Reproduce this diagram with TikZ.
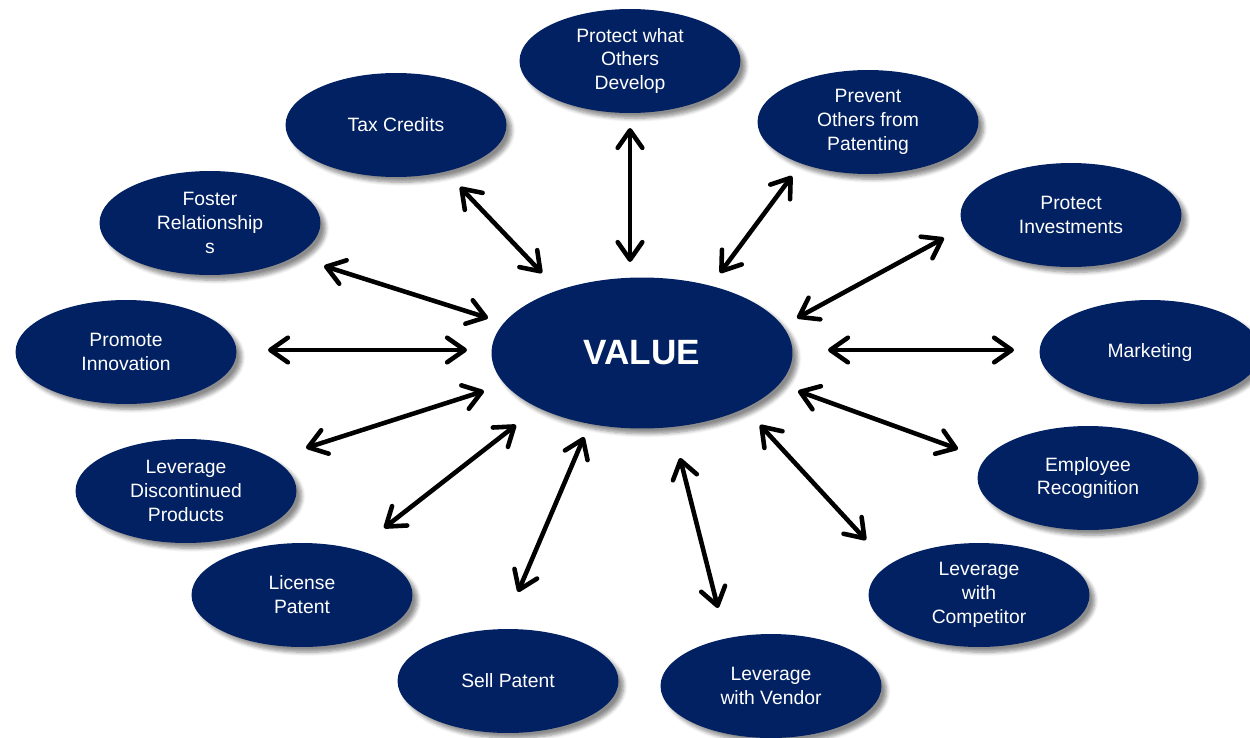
\documentclass[tikz,border=0pt]{standalone}
\usepackage{fontspec}
\setmainfont{Liberation Sans}
\usetikzlibrary{shapes.geometric,arrows.meta,shadows.blur}
\definecolor{navy}{HTML}{022162}
\tikzset{
  oval/.style={ellipse, fill=navy, draw=none, minimum width=4.42cm, minimum height=2.08cm,
    inner sep=0pt, text=white, align=center, font=\fontsize{11pt}{13.6pt}\selectfont,
    blur shadow={shadow xshift=3pt, shadow yshift=-3pt, shadow blur steps=6, shadow opacity=45}},
  dbl/.style={line width=2.6pt, line cap=round,
    {Straight Barb[length=10pt,width=14pt,line cap=round,line join=round]}-{Straight Barb[length=10pt,width=14pt,line cap=round,line join=round]}}
}
\begin{document}
\begin{tikzpicture}[x=0.02cm,y=-0.02cm]
\useasboundingbox (0,0) rectangle (1250,737);
\node[oval, minimum width=6.02cm, minimum height=3.02cm, font=\fontsize{20pt}{22pt}\selectfont\bfseries] (value) at (642,353) {VALUE};
\node[oval] (pw) at (630,61) {Protect what\\Others\\Develop};
\node[oval] (tax) at (396,125) {Tax Credits};
\node[oval] (prev) at (868,122) {Prevent\\Others from\\Patenting};
\node[oval] (foster) at (210,223) {Foster\\Relationship\\s};
\node[oval] (pinv) at (1071,215) {Protect\\Investments};
\node[oval] (prom) at (126,352) {Promote\\Innovation};
\node[oval] (mkt) at (1150,352) {Marketing};
\node[oval] (ldisc) at (186,491) {Leverage\\Discontinued\\Products};
\node[oval] (emp) at (1088,478) {Employee\\Recognition};
\node[oval] (lic) at (302,595) {License\\Patent};
\node[oval] (comp) at (979,595) {Leverage\\with\\Competitor};
\node[oval] (sell) at (508,681) {Sell Patent};
\node[oval] (vend) at (771,686) {Leverage\\with Vendor};

\draw[dbl] ([shift={(-12,-91)}]value.center) -- ([shift={(0,67)}]pw.center);
\draw[dbl] ([shift={(-100,-80)}]value.center) -- ([shift={(64,62)}]tax.center);
\draw[dbl] ([shift={(78,-80)}]value.center) -- ([shift={(-76,54)}]prev.center);
\draw[dbl] ([shift={(-154,-35)}]value.center) -- ([shift={(114,43)}]foster.center);
\draw[dbl] ([shift={(155,-35)}]value.center) -- ([shift={(-127,23)}]pinv.center);
\draw[dbl] ([shift={(-175,-3)}]value.center) -- ([shift={(142,-2)}]prom.center);
\draw[dbl] ([shift={(186,-3)}]value.center) -- ([shift={(-136,-2)}]mkt.center);
\draw[dbl] ([shift={(-158,38)}]value.center) -- ([shift={(120,-43)}]ldisc.center);
\draw[dbl] ([shift={(156,38)}]value.center) -- ([shift={(-130,-29)}]emp.center);
\draw[dbl] ([shift={(-126,72)}]value.center) -- ([shift={(82,-67)}]lic.center);
\draw[dbl] ([shift={(118,72)}]value.center) -- ([shift={(-113,-55)}]comp.center);
\draw[dbl] ([shift={(-58,84)}]value.center) -- ([shift={(10,-89)}]sell.center);
\draw[dbl] ([shift={(38,105)}]value.center) -- ([shift={(-53,-78)}]vend.center);
\end{tikzpicture}
\end{document}
